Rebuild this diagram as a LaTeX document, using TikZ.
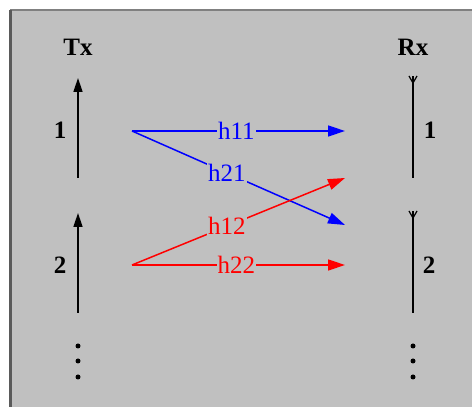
\documentclass[tikz,border=0pt]{standalone}
\usepackage{fontspec}
\setmainfont{Liberation Serif}
\usetikzlibrary{arrows.meta}
\definecolor{bggray}{RGB}{192,192,192}
\definecolor{frameL}{RGB}{90,90,90}
\definecolor{frameT}{RGB}{128,128,128}
\tikzset{
  x=1pt,y=1pt,
  ant/.style={line width=1.6pt,black},
  txarrow/.style={ant,-{Triangle[length=14pt,width=9pt]}},
  chan/.style={line width=1.5pt,-{Triangle[length=17pt,width=11pt]}},
  hlab/.style={fill=bggray,inner sep=1pt,font=\fontsize{25}{28}\selectfont},
  blab/.style={font=\fontsize{25}{28}\selectfont\bfseries},
  dot/.style={circle,fill=black,inner sep=0pt,minimum size=5pt}
}
\begin{document}
\begin{tikzpicture}
\useasboundingbox (0,0) rectangle (472,407);
\fill[white] (0,0) rectangle (472,407);
\fill[bggray] (10,0) rectangle (472,397);
\draw[frameT,line width=2.5pt] (10,397) -- (472,397);
\draw[frameL,line width=3pt] (10,0) -- (10,397);
% labels
\node[blab] (tx) at (78,360) {Tx};
\node[blab] (rx) at (413,360) {Rx};
% Tx antennas
\coordinate (tx1b) at (78,229); \coordinate (tx1t) at (78,329);
\coordinate (tx2b) at (78,94);  \coordinate (tx2t) at (78,194);
\draw[txarrow] (tx1b) -- (tx1t);
\draw[txarrow] (tx2b) -- (tx2t);
\node[blab] (tn1) at (60,277) {1};
\node[blab] (tn2) at (60,142) {2};
% Rx antennas
\coordinate (rx1b) at (413,229); \coordinate (rx1t) at (413,331); \coordinate (rx1j) at (413,324);
\coordinate (rx2b) at (413,94);  \coordinate (rx2t) at (413,196); \coordinate (rx2j) at (413,189);
\draw[ant] (rx1b) -- (rx1t);
\draw[ant,line width=1.2pt] ([xshift=-4pt]rx1t) -- (rx1j) -- ([xshift=4pt]rx1t);
\draw[ant] (rx2b) -- (rx2t);
\draw[ant,line width=1.2pt] ([xshift=-4pt]rx2t) -- (rx2j) -- ([xshift=4pt]rx2t);
\node[blab] (rn1) at (430,277) {1};
\node[blab] (rn2) at (429,142) {2};
% dots
\foreach \y [count=\i] in {61,46,30} {
  \node[dot] (dl\i) at (78,\y) {};
  \node[dot] (dr\i) at (413,\y) {};
}
% channel endpoints
\coordinate (s1) at (132,276);
\coordinate (s2) at (132,142);
\coordinate (e11) at (345,276);
\coordinate (e21) at (345,182);
\coordinate (e12) at (345,229);
\coordinate (e22) at (345,142);
\draw[chan,blue] (s1) -- node[hlab,pos=0.49] (l11) {h11} (e11);
\draw[chan,blue] (s1) -- node[hlab,pos=0.446] (l21) {h21} (e21);
\draw[chan,red] (s2) -- node[hlab,pos=0.446] (l12) {h12} (e12);
\draw[chan,red] (s2) -- node[hlab,pos=0.49] (l22) {h22} (e22);
\end{tikzpicture}
\end{document}
